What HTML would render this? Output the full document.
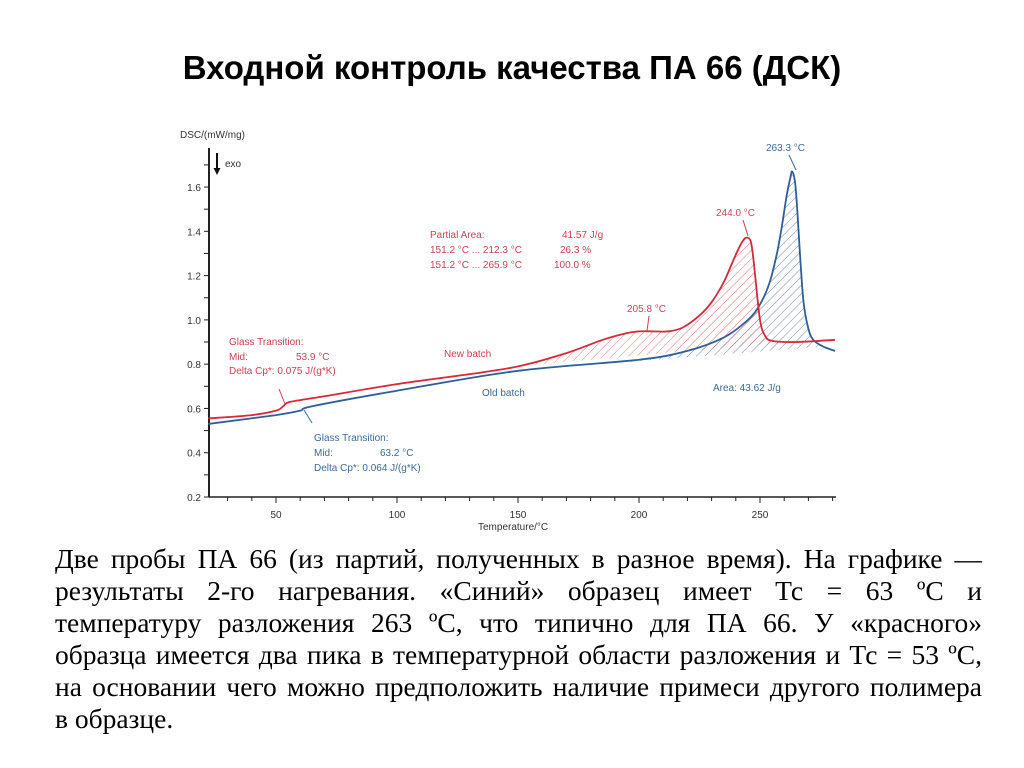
<!DOCTYPE html>
<html><head><meta charset="utf-8"><style>
body{margin:0;width:1024px;height:768px;background:#fff;overflow:hidden;position:relative}
#title{position:absolute;top:49px;left:0;width:1024px;text-align:center;font:bold 33px "Liberation Sans",sans-serif;color:#000}
#desc{position:absolute;top:543px;left:55px;width:927px;font:27.5px/32px "Liberation Serif",serif;color:#000}
#desc div{text-align:justify;text-align-last:justify;white-space:nowrap}
#desc div.last{text-align-last:left}
svg{position:absolute;left:0;top:0}
</style></head><body>
<div id="title">Входной контроль качества ПА 66 (ДСК)</div>
<svg id="chart" width="1024" height="540" font-family="Liberation Sans, sans-serif">
<defs>
<pattern id="hr" width="6" height="6" patternUnits="userSpaceOnUse" patternTransform="rotate(45)"><line x1="0" y1="0" x2="0" y2="6" stroke="#e05050" stroke-width="0.8"/></pattern>
<pattern id="hb" width="6" height="6" patternUnits="userSpaceOnUse" patternTransform="rotate(45)"><line x1="0" y1="0" x2="0" y2="6" stroke="#5070a0" stroke-width="0.8"/></pattern>
</defs>
</svg>
<div id="desc">
<div>Две пробы ПА 66 (из партий, полученных в разное время). На графике —</div>
<div>результаты 2-го нагревания. «Синий» образец имеет Тс = 63 ºС и</div>
<div>температуру разложения 263 ºС, что типично для ПА 66. У «красного»</div>
<div>образца имеется два пика в температурной области разложения и Тс = 53 ºС,</div>
<div>на основании чего можно предположить наличие примеси другого полимера</div>
<div class="last">в образце.</div>
</div>
<script>
const newT=[22,40,50,53,56,70,100,130,150,170,185,195,200,206,212,218,225,230,235,239,242,244,246,247,248,250,252,255,265,281];
const newV=[0.555,0.57,0.59,0.61,0.63,0.655,0.71,0.755,0.79,0.85,0.91,0.94,0.948,0.948,0.948,0.965,1.02,1.08,1.17,1.27,1.34,1.37,1.36,1.3,1.2,1.0,0.93,0.905,0.9,0.91];
const oldT=[22,50,60,65,100,150,200,220,235,245,250,254,257,259,261,262.5,263.3,264.5,265.5,266.5,268,270,272,276,281];
const oldV=[0.53,0.57,0.59,0.61,0.68,0.77,0.82,0.86,0.92,1.0,1.07,1.17,1.3,1.42,1.56,1.64,1.67,1.62,1.48,1.3,1.08,0.96,0.91,0.88,0.86];
const yTicks=[0.2,0.4,0.6,0.8,1.0,1.2,1.4,1.6];
const xTicks=[50,100,150,200,250];
const NS='http://www.w3.org/2000/svg';
const svg=document.getElementById('chart');
const X=t=>276+(t-50)*2.42, Y=v=>497-(v-0.2)*221.4;
function el(n,a,p){const e=document.createElementNS(NS,n);for(const k in a)e.setAttribute(k,a[k]);(p||svg).appendChild(e);return e;}
function interp(T,V,t){for(let i=0;i<T.length-1;i++)if(t>=T[i]&&t<=T[i+1])return V[i]+(V[i+1]-V[i])*(t-T[i])/(T[i+1]-T[i]);return V[V.length-1];}
function area(T,V,t0,t1){let pts=[[t0,interp(T,V,t0)]];T.forEach((t,i)=>{if(t>t0&&t<t1)pts.push([t,V[i]])});pts.push([t1,interp(T,V,t1)]);return 'M'+pts.map(p=>X(p[0])+','+Y(p[1])).join('L')+'Z';}
function smooth(T,V){const P=T.map((t,i)=>[X(t),Y(V[i])]);let d='M'+P[0];for(let i=0;i<P.length-1;i++){const p0=P[i-1]||P[i],p1=P[i],p2=P[i+1],p3=P[i+2]||p2;
const c1=[p1[0]+(p2[0]-p0[0])/6,p1[1]+(p2[1]-p0[1])/6],c2=[p2[0]-(p3[0]-p1[0])/6,p2[1]-(p3[1]-p1[1])/6];d+='C'+c1+' '+c2+' '+p2;}return d;}
let a=el('path',{d:area(oldT,oldV,151.2,276),fill:'url(#hb)'});

a=el('path',{d:area(newT,newV,151.2,265.9),fill:'url(#hr)'});

let ax=el('line',{x1:209,y1:148,x2:209,y2:497,stroke:'#222','stroke-width':2});

ax=el('line',{x1:209,y1:497,x2:836,y2:497,stroke:'#222','stroke-width':1.5});

for(let v=0.2;v<=1.75;v+=0.1){el('line',{x1:204,x2:209,y1:Y(v),y2:Y(v),stroke:'#222'});}
yTicks.forEach(v=>{const t=el('text',{x:201,y:Y(v)+4,'text-anchor':'end','font-size':10,fill:'#333'});t.textContent=v.toFixed(1);
});
for(let t=30;t<=280;t+=10){el('line',{x1:X(t),x2:X(t),y1:497,y2:t%50==0?503:501,stroke:'#222'});}
xTicks.forEach(v=>{const t=el('text',{x:X(v),y:518,'text-anchor':'middle','font-size':10,fill:'#333'});t.textContent=v;
});
function txt(x,y,s,c,n,anchor){const t=el('text',{x:x,y:y,'font-size':10,fill:c,'text-anchor':anchor||'start'});t.textContent=s;return t;}
txt(478,530,'Temperature/°C','#333','x-axis-title');
txt(180,138,'DSC/(mW/mg)','#333','y-axis-title');
el('line',{x1:217,y1:153,x2:217,y2:172,stroke:'#111','stroke-width':2});
el('path',{d:'M213.5,168 L220.5,168 L217,175Z',fill:'#111'});
txt(225,167,'exo','#333','exo-label');
function line(T,V,c,n){const p=el('path',{d:smooth(T,V),fill:'none',stroke:c,'stroke-width':1.8,'stroke-linejoin':'round'});}
line(oldT,oldV,'#2c5f9a','old-batch-line');
line(newT,newV,'#d8283a','new-batch-line');
const R='#d04050',B='#3a6a9a';
txt(430,238,'Partial Area:',R,'partial-area-label');txt(562,238,'41.57 J/g',R,'partial-area-value');
txt(430,253,'151.2 °C ... 212.3 °C',R,'range1');txt(560,253,'26.3 %',R,'range1-pct');
txt(430,268,'151.2 °C ... 265.9 °C',R,'range2');txt(554,268,'100.0 %',R,'range2-pct');
txt(229,345,'Glass Transition:',R,'red-tg-title');txt(229,360,'Mid:',R,'red-mid');txt(296,360,'53.9 °C',R,'red-mid-val');
txt(229,374,'Delta Cp*:  0.075 J/(g*K)',R,'red-dcp');
txt(444,357,'New batch',R,'new-batch-label');
txt(482,396,'Old batch',B,'old-batch-label');
txt(314,441,'Glass Transition:',B,'blue-tg-title');txt(314,456,'Mid:',B,'blue-mid');txt(380,456,'63.2 °C',B,'blue-mid-val');
txt(314,471,'Delta Cp*:  0.064 J/(g*K)',B,'blue-dcp');
txt(627,312,'205.8 °C',R,'peak1-label');txt(716,216,'244.0 °C',R,'peak2-label');txt(766,151,'263.3 °C',B,'peak3-label');
txt(713,391,'Area: 43.62 J/g',B,'area-label');
el('line',{x1:279,y1:389,x2:285,y2:404,stroke:R});
el('line',{x1:304,y1:410,x2:312,y2:423,stroke:B});
el('line',{x1:649,y1:316,x2:647,y2:331,stroke:R});
el('line',{x1:743,y1:220,x2:748,y2:236,stroke:R});
el('line',{x1:789,y1:155,x2:796,y2:170,stroke:B});
</script>
</body></html>
